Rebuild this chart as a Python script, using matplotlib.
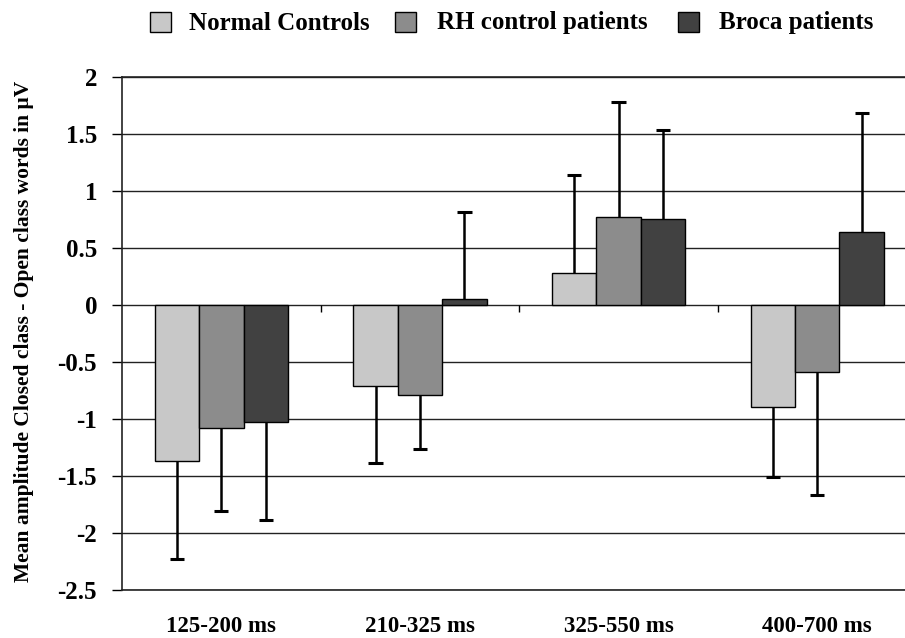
import matplotlib

matplotlib.use("Agg")

import matplotlib.pyplot as plt
import numpy as np
from matplotlib.patches import Rectangle

windows = ["125-200 ms", "210-325 ms", "325-550 ms", "400-700 ms"]
groups = ["Normal Controls", "RH control patients", "Broca patients"]
colors = ["#c8c8c8", "#8c8c8c", "#414141"]

means = {
    "Normal Controls": [-1.37, -0.71, 0.28, -0.90],
    "RH control patients": [-1.08, -0.79, 0.77, -0.59],
    "Broca patients": [-1.03, 0.05, 0.75, 0.64],
}
errors = {
    "Normal Controls": [0.86, 0.68, 0.86, 0.61],
    "RH control patients": [0.73, 0.47, 1.01, 1.08],
    "Broca patients": [0.86, 0.76, 0.78, 1.04],
}
y_ticks = [2, 1.5, 1, 0.5, 0, -0.5, -1, -1.5, -2, -2.5]
y_label = "Mean amplitude Closed class - Open class words in \u03bcV"

serif = ["Liberation Serif", "DejaVu Serif"]

fig = plt.figure(figsize=(9.05, 6.38), dpi=100, facecolor="white")
# axes runs a little past the right edge, as in the cropped original
ax = fig.add_axes([122 / 905, 1 - 590 / 638, 794.6 / 905, (590 - 76.7) / 638])

x = np.arange(len(windows))
width = 0.2234
cap = 0.036
for i, name in enumerate(groups):
    vals = np.array(means[name])
    errs = np.array(errors[name])
    pos = x + (i - 1) * width
    ax.bar(pos, vals, width, color=colors[i], edgecolor="black", linewidth=1.0, zorder=3)
    # one-sided error bars pointing away from zero
    ends = vals + np.sign(vals) * errs
    ax.vlines(pos, vals, ends, color="black", linewidth=1.8, zorder=4)
    ax.hlines(ends, pos - cap, pos + cap, color="black", linewidth=2.2, zorder=4)

ax.set_xlim(-0.5, len(windows) - 0.5)
ax.set_ylim(-2.5, 2)
ax.set_yticks(y_ticks)
ax.set_yticklabels([f"{t:g}" for t in y_ticks], family=serif, fontweight="bold", fontsize=18)
ax.set_xticks(x)
ax.set_xticklabels(windows, family=serif, fontweight="bold", fontsize=16.5)
ax.tick_params(axis="x", length=0, pad=19)
ax.tick_params(axis="y", length=7, width=1, pad=11, direction="out")
ax.yaxis.grid(True, color="#222222", linewidth=1.0, zorder=0)
ax.set_axisbelow(True)
for side in ("left", "bottom", "top"):
    ax.spines[side].set_linewidth(1.2)
    ax.spines[side].set_color("#222222")
ax.spines["right"].set_visible(False)

# small ticks on the zero line between the time windows
ax.vlines(x[:-1] + 0.5, 0, -0.06, color="black", linewidth=1.0, zorder=2)

fig.text(
    24 / 905,
    1 - 331 / 638,
    y_label,
    rotation=90,
    ha="center",
    va="center",
    family=serif,
    fontweight="bold",
    fontsize=15.5,
)

# legend row across the top
legend_boxes = [(150, 189), (395, 437), (678, 719)]
for (box_x, text_x), name, color in zip(legend_boxes, groups, colors):
    fig.patches.append(
        Rectangle(
            (box_x / 905, 1 - 32 / 638),
            21 / 905,
            20 / 638,
            transform=fig.transFigure,
            facecolor=color,
            edgecolor="black",
            linewidth=1.0,
        )
    )
    fig.text(
        text_x / 905,
        1 - 23 / 638,
        name,
        ha="left",
        va="center",
        family=serif,
        fontweight="bold",
        fontsize=18,
    )

fig.savefig("out.png", dpi=100)
